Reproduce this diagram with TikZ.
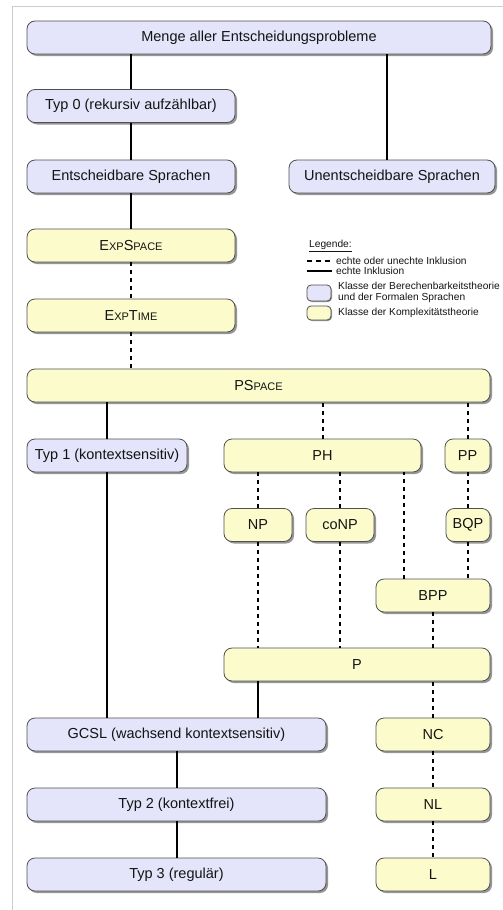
\documentclass[tikz,border=0pt]{standalone}
\usepackage{fontspec}
\setmainfont{Liberation Sans}
\usetikzlibrary{shadows,calc}

\definecolor{berechfill}{RGB}{228,228,250}
\definecolor{komplexfill}{RGB}{251,251,204}
\definecolor{bordergray}{RGB}{80,80,80}
\definecolor{shadowgray}{RGB}{150,150,150}
\definecolor{framegray}{RGB}{205,205,205}
\definecolor{textdark}{RGB}{20,20,20}

% reduced capitals for class names such as PSPACE
\newcommand\kleinkaps[1]{{\fontsize{11pt}{12pt}\selectfont #1}}
\newcommand\nodefont{\fontsize{14.5pt}{16pt}\selectfont}
\newcommand\legfont{\fontsize{10.2pt}{11pt}\selectfont}

\tikzset{
  klasse/.style={draw=bordergray, line width=0.8pt, rounded corners=8pt,
    minimum height=33pt, inner sep=0pt, text=textdark, font=\nodefont,
    drop shadow={shadow xshift=2pt, shadow yshift=-2pt, fill=shadowgray, opacity=1}},
  berech/.style={klasse, fill=berechfill},
  komplex/.style={klasse, fill=komplexfill},
  echt/.style={line width=2pt, black},
  unecht/.style={line width=2pt, black, dash pattern=on 4pt off 4pt},
  legtext/.style={anchor=west, font=\legfont, text=textdark, inner sep=0pt, align=left},
  legbox/.style={draw=bordergray, line width=0.8pt, rounded corners=4pt,
    minimum width=24pt, inner sep=0pt,
    drop shadow={shadow xshift=1pt, shadow yshift=-1pt, fill=shadowgray, opacity=1}}
}

\begin{document}
\begin{tikzpicture}[x=1pt, y=-1pt]
  \fill[white] (0,0) rectangle (503,910);
  \useasboundingbox (0,0) rectangle (503,910);
  \draw[framegray, line width=1pt] (503,6.5) -- (12.5,6.5) -- (12.5,910);

  % computability classes and formal languages
  \node[berech, minimum width=464pt] (menge) at (259,37.5) {Menge aller Entscheidungsprobleme};
  \node[berech, minimum width=208pt] (typ0) at (131,106) {Typ 0 (rekursiv aufzählbar)};
  \node[berech, minimum width=208pt] (ent) at (131,176.5) {Entscheidbare Sprachen};
  \node[berech, minimum width=206pt] (unent) at (392,176.5) {Unentscheidbare Sprachen};

  % complexity classes
  \node[komplex, minimum width=208pt] (exps) at (131,245.5) {E\kleinkaps{XP}S\kleinkaps{PACE}};
  \node[komplex, minimum width=208pt] (expt) at (131,315.5) {E\kleinkaps{XP}T\kleinkaps{IME}};
  \node[komplex, minimum width=463pt] (ps) at (258.5,385.5) {PS\kleinkaps{PACE}};

  \node[berech, minimum width=160pt] (typ1) at (107,455.5) {Typ 1 (kontextsensitiv)};
  \node[komplex, minimum width=197pt] (ph) at (322.5,455.5) {PH};
  \node[komplex, minimum width=45pt] (pp) at (467.5,455.5) {PP};

  \node[komplex, minimum width=68pt] (np) at (258,525) {NP};
  \node[komplex, minimum width=68pt] (conp) at (340,525) {coNP};
  \node[komplex, minimum width=44pt] (bqp) at (468,525) {BQP};

  \node[komplex, minimum width=114pt] (bpp) at (433,595.5) {BPP};
  \node[komplex, minimum width=266pt] (p) at (357,664.5) {P};

  \node[berech, minimum width=299pt] (gcsl) at (176.5,734.5) {GCSL (wachsend kontextsensitiv)};
  \node[berech, minimum width=299pt] (typ2) at (176.5,804.5) {Typ 2 (kontextfrei)};
  \node[berech, minimum width=299pt] (typ3) at (176.5,874.5) {Typ 3 (regulär)};

  \node[komplex, minimum width=114pt] (nc) at (433,734.5) {NC};
  \node[komplex, minimum width=114pt] (nl) at (433,804.5) {NL};
  \node[komplex, minimum width=114pt] (l) at (433,874.5) {L};

  % inclusions
  \draw[echt] (typ0.north) -- (typ0.north |- menge.south);
  \draw[echt] ([xshift=-5pt]unent.north) -- ([xshift=-5pt]unent.north |- menge.south);
  \draw[echt] (typ0.south) -- (ent.north);
  \draw[echt] (ent.south) -- (exps.north);
  \draw[unecht] (exps.south) -- (expt.north);
  \draw[unecht] (expt.south) -- (expt.south |- ps.north);

  \draw[echt] (typ1.north) -- (typ1.north |- ps.south);
  \draw[unecht] (ph.north) -- (ph.north |- ps.south);
  \draw[unecht] (pp.north) -- (pp.north |- ps.south);

  \draw[unecht] (np.north) -- (np.north |- ph.south);
  \draw[unecht] (conp.north) -- (conp.north |- ph.south);
  \draw[unecht] (bqp.north) -- (bqp.north |- pp.south);

  \coordinate (bppin) at ($(bpp.north west)!0.25!(bpp.north east)$);
  \draw[unecht] (bppin) -- (bppin |- ph.south);
  \draw[unecht] (bqp.south) -- (bqp.south |- bpp.north);

  \draw[unecht] (np.south) -- (np.south |- p.north);
  \draw[unecht] (conp.south) -- (conp.south |- p.north);
  \draw[unecht] (bpp.south) -- (bpp.south |- p.north);

  \draw[echt] (typ1.south) -- (typ1.south |- gcsl.north);
  \draw[echt] (np.center |- p.south) -- (np.center |- gcsl.north);
  \draw[unecht] (nc.north) -- (nc.north |- p.south);

  \draw[echt] (gcsl.south) -- (typ2.north);
  \draw[echt] (typ2.south) -- (typ3.north);
  \draw[unecht] (nc.south) -- (nl.north);
  \draw[unecht] (nl.south) -- (l.north);

  % legend
  \node[legtext] (leghead) at (309,246) {\underline{Legende:}};
  \coordinate (ua) at (307,261);
  \coordinate (ub) at (332,261);
  \draw[line width=2pt, dash pattern=on 5pt off 4pt] (ua) -- (ub);
  \node[legtext] (legunecht) at (336,261) {echte oder unechte Inklusion};
  \coordinate (ea) at (307,270.5);
  \coordinate (eb) at (332,270.5);
  \draw[line width=2pt] (ea) -- (eb);
  \node[legtext] (legecht) at (336,271) {echte Inklusion};
  \node[legbox, fill=berechfill, minimum height=16pt] (legb) at (319,293) {};
  \node[legtext] (legbtext) at (338,292.5) {Klasse der Berechenbarkeitstheorie\\und der Formalen Sprachen};
  \node[legbox, fill=komplexfill, minimum height=14pt] (legk) at (319,313) {};
  \node[legtext] (legktext) at (338,312.5) {Klasse der Komplexitätstheorie};
\end{tikzpicture}
\end{document}
